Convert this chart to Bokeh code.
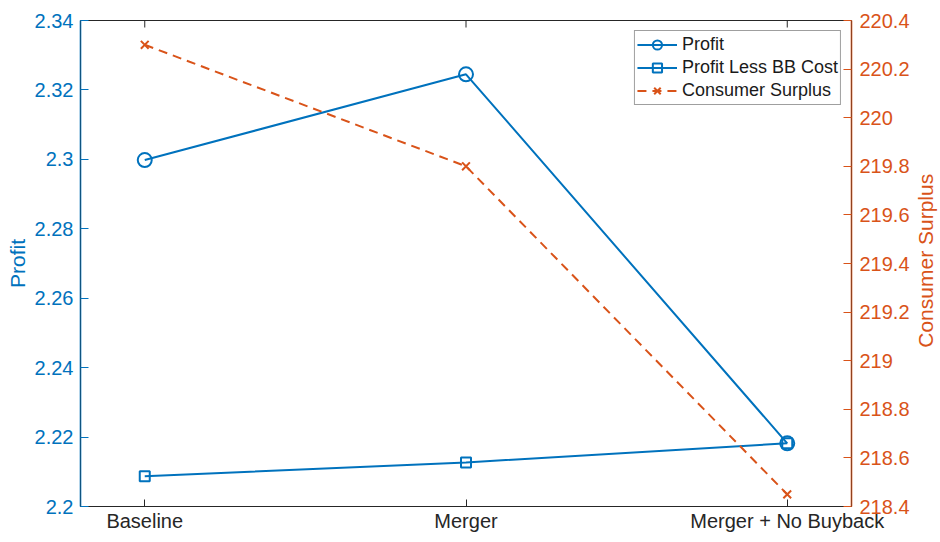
import math
from bokeh.plotting import figure
from bokeh.layouts import row
from bokeh.models import (Range1d, LinearAxis, FixedTicker, CustomJSTickFormatter,
                          Legend, LegendItem, Label)
from bokeh.embed import file_html
from bokeh.resources import INLINE

categories = ["Baseline", "Merger", "Merger + No Buyback"]
profit = [2.2998, 2.3245, 2.2182]
profit_less_bb = [2.2087, 2.2127, 2.2182]
consumer_surplus = [220.30, 219.80, 218.45]
profit_ticks = [2.20, 2.22, 2.24, 2.26, 2.28, 2.30, 2.32, 2.34]
cs_ticks = [218.4, 218.6, 218.8, 219.0, 219.2, 219.4, 219.6, 219.8, 220.0, 220.2, 220.4]

BLUE = "#0072BD"
ORANGE = "#D95319"
DARK = "#262626"
FONT = "Liberation Sans"

xs = [i + 1 for i in range(len(categories))]
X0, X1 = 0.8, 3.2
H = 534
W1, W2 = 912, 26
BL, BR, BT, BB = 80, 59, 20, 26

p1 = figure(width=W1, height=H, x_range=Range1d(X0, X1),
            y_range=Range1d(profit_ticks[0], profit_ticks[-1]),
            output_backend="svg", toolbar_location=None,
            min_border_left=BL, min_border_right=BR, min_border_top=BT, min_border_bottom=BB)
p1.xgrid.visible = False
p1.ygrid.visible = False
p1.outline_line_color = DARK
p1.outline_line_width = 1
p1.background_fill_color = "white"
p1.border_fill_color = "white"

# bottom axis
xa = p1.xaxis[0]
xa.ticker = FixedTicker(ticks=xs)
xa.formatter = CustomJSTickFormatter(args=dict(labels=categories),
                                     code="return labels[Math.round(tick) - 1];")
xa.major_tick_in = 7
xa.major_tick_out = 0
xa.minor_tick_line_color = None
xa.axis_line_color = DARK
xa.major_tick_line_color = DARK
xa.major_label_text_color = DARK
xa.major_label_text_font = FONT
xa.major_label_text_font_size = "20px"
xa.major_label_standoff = 3

# top box ticks (inward), clipped to the frame
p1.scatter(xs, [profit_ticks[-1]] * len(xs), marker="dash", angle=math.pi / 2, size=14,
           line_color=DARK, line_width=1)

# left axis
ya = p1.yaxis[0]
ya.ticker = FixedTicker(ticks=profit_ticks)
ya.formatter = CustomJSTickFormatter(code="return Number(tick.toFixed(2)).toString();")
ya.major_tick_in = 8
ya.major_tick_out = 0
ya.minor_tick_line_color = None
ya.axis_line_color = BLUE
ya.axis_line_alpha = 0.6
ya.axis_line_width = 2
ya.major_tick_line_color = BLUE
ya.major_label_text_color = BLUE
ya.major_label_text_font = FONT
ya.major_label_text_font_size = "20px"
ya.major_label_standoff = 7
ya.axis_label = "Profit"
ya.axis_label_text_color = BLUE
ya.axis_label_text_font = FONT
ya.axis_label_text_font_style = "normal"
ya.axis_label_text_font_size = "21px"
ya.axis_label_standoff = 3

# right axis
p1.extra_y_ranges = {"cs": Range1d(cs_ticks[0], cs_ticks[-1])}
ra = LinearAxis(y_range_name="cs", ticker=FixedTicker(ticks=cs_ticks),
                formatter=CustomJSTickFormatter(code="return Number(tick.toFixed(1)).toString();"),
                major_tick_in=8, major_tick_out=0, minor_tick_line_color=None,
                axis_line_color=ORANGE, axis_line_alpha=0.6, axis_line_width=2,
                major_tick_line_color=ORANGE, major_label_text_color=ORANGE,
                major_label_text_font=FONT, major_label_text_font_size="20px",
                major_label_standoff=8)
p1.add_layout(ra, "right")

# series
l1 = p1.line(xs, profit, line_color=BLUE, line_width=2)
m1 = p1.scatter(xs, profit, marker="circle", size=14, fill_color=None,
                line_color=BLUE, line_width=2)
l2 = p1.line(xs, profit_less_bb, line_color=BLUE, line_width=2)
m2 = p1.scatter(xs, profit_less_bb, marker="square", size=10, fill_color=None,
                line_color=BLUE, line_width=2)
l3 = p1.line(xs, consumer_surplus, line_color=ORANGE, line_width=2, line_dash="9 6",
             y_range_name="cs")
m3 = p1.scatter(xs, consumer_surplus, marker="x", size=11, line_color=ORANGE,
                line_width=2, y_range_name="cs")

legend = Legend(items=[LegendItem(label="Profit", renderers=[l1, m1]),
                       LegendItem(label="Profit Less BB Cost", renderers=[l2, m2]),
                       LegendItem(label="Consumer Surplus", renderers=[l3, m3])],
                location="top_right", margin=10, padding=2, spacing=0,
                label_height=23, glyph_height=23, glyph_width=40, label_standoff=5,
                label_text_font=FONT, label_text_font_size="18px",
                label_text_color="#1a1a1a",
                border_line_color="#404040", border_line_width=1,
                background_fill_color="white", background_fill_alpha=1)
p1.add_layout(legend)

# narrow strip holding the right axis title (reads bottom-to-top)
p2 = figure(width=W2, height=H, x_range=Range1d(0, 1), y_range=Range1d(0, H),
            output_backend="svg", toolbar_location=None,
            x_axis_location=None, y_axis_location=None, min_border=0)
p2.grid.visible = False
p2.outline_line_color = None
p2.background_fill_color = "white"
p2.border_fill_color = "white"
frame_center_from_bottom = H - (BT + (H - BT - BB) / 2)
p2.add_layout(Label(x=0.5, y=frame_center_from_bottom, text="Consumer Surplus",
                    angle=math.pi / 2, text_align="center", text_baseline="middle",
                    text_color=ORANGE, text_font=FONT, text_font_size="21px"))

p = row(p1, p2, spacing=0)

open("out.html", "w").write(file_html(p, INLINE))
